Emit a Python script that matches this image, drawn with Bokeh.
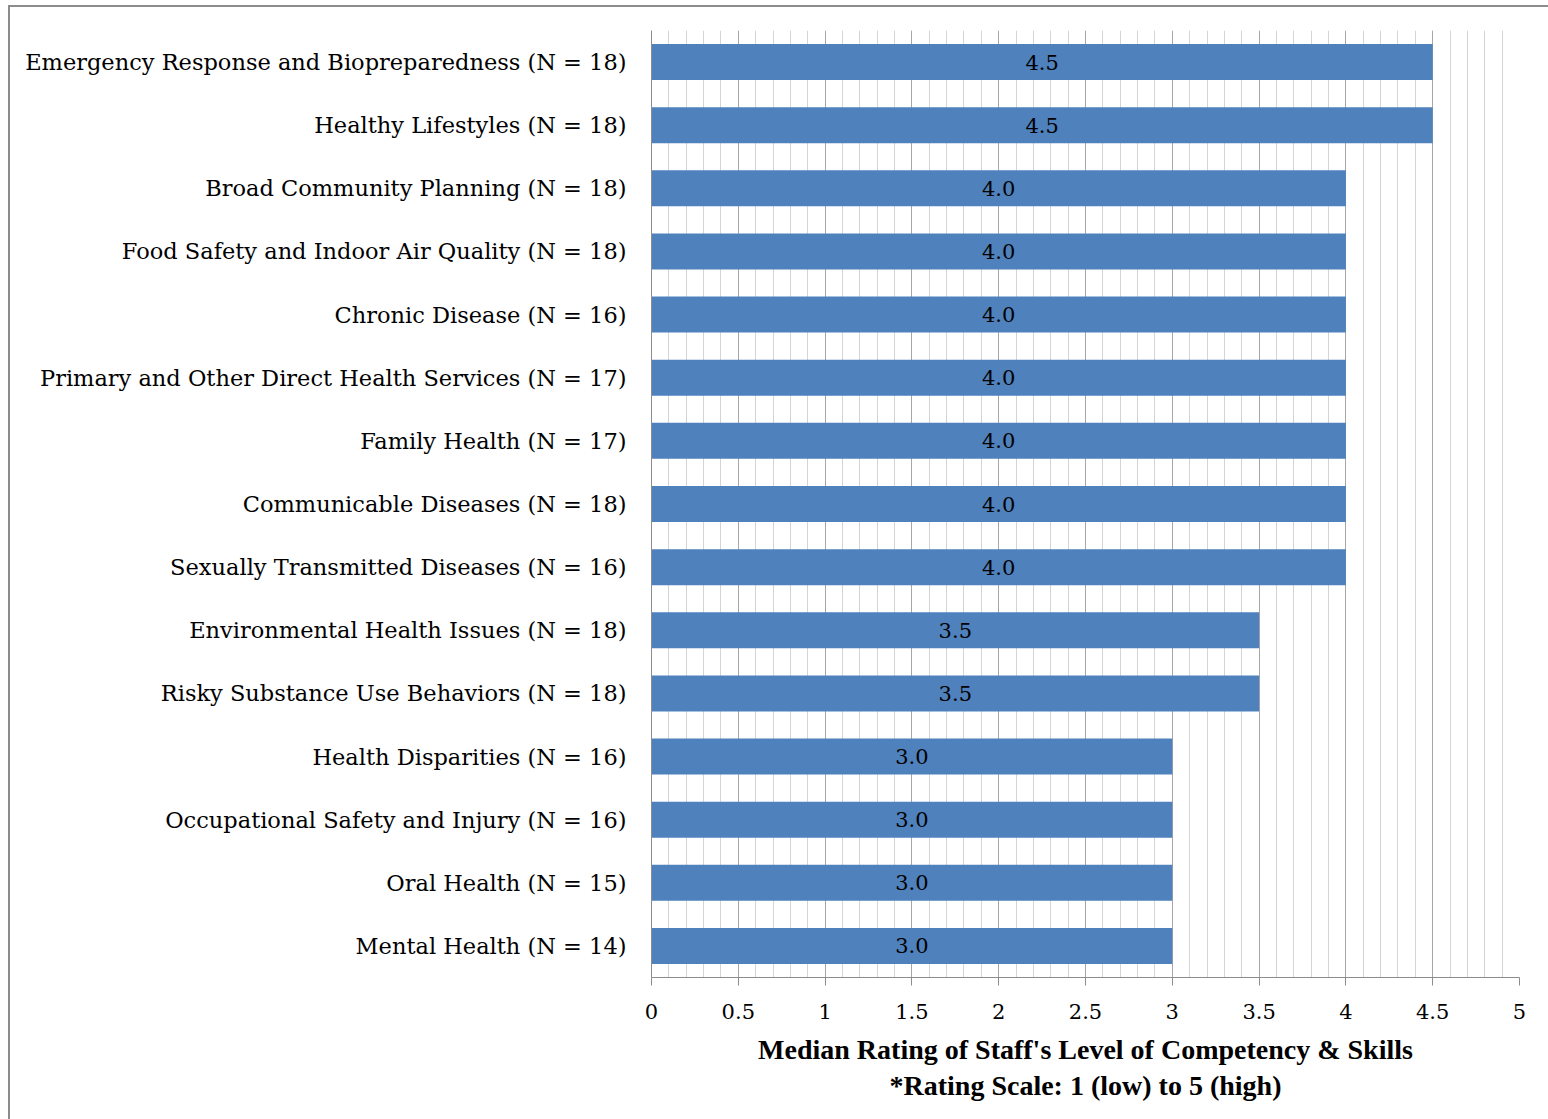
from bokeh.plotting import figure
from bokeh.models import FactorRange, Range1d, SingleIntervalTicker, NumeralTickFormatter, Title, ColumnDataSource
from bokeh.core.properties import value
from bokeh.embed import file_html
from bokeh.resources import INLINE

categories = [
    "Emergency Response and Biopreparedness (N = 18)",
    "Healthy Lifestyles (N = 18)",
    "Broad Community Planning (N = 18)",
    "Food Safety and Indoor Air Quality (N = 18)",
    "Chronic Disease (N = 16)",
    "Primary and Other Direct Health Services (N = 17)",
    "Family Health (N = 17)",
    "Communicable Diseases (N = 18)",
    "Sexually Transmitted Diseases (N = 16)",
    "Environmental Health Issues (N = 18)",
    "Risky Substance Use Behaviors (N = 18)",
    "Health Disparities (N = 16)",
    "Occupational Safety and Injury (N = 16)",
    "Oral Health (N = 15)",
    "Mental Health (N = 14)",
]
medians = [4.5, 4.5, 4.0, 4.0, 4.0, 4.0, 4.0, 4.0, 4.0, 3.5, 3.5, 3.0, 3.0, 3.0, 3.0]

x_title = "Median Rating of Staff's Level of Competency & Skills"
x_subtitle = "*Rating Scale: 1 (low) to 5 (high)"

SERIF = "DejaVu Serif"
BAR = "#4F81BD"

src = ColumnDataSource(dict(
    cat=categories,
    val=medians,
    mid=[v / 2 for v in medians],
    txt=[f"{v:.1f}" for v in medians],
))

p = figure(
    y_range=FactorRange(*reversed(categories), range_padding=0),
    x_range=Range1d(0, 5),
    frame_width=868, frame_height=947,
    min_border_left=641, min_border_top=23, min_border_right=29, min_border_bottom=142,
    output_backend="svg", toolbar_location=None,
)
p.styles = {
    "margin-left": "8px", "margin-top": "5px",
    "border-left": "2px solid #8c8c8c", "border-top": "2px solid #8c8c8c",
}
p.outline_line_color = None

p.hbar(y="cat", right="val", left=0, height=0.57, source=src,
       fill_color=BAR, line_color=None)
p.text(x="mid", y="cat", text="txt", source=src,
       text_align="center", text_baseline="middle",
       text_font=value(SERIF), text_font_size="21px", text_color="#000000")

ticker = SingleIntervalTicker(interval=0.5, num_minor_ticks=5)
p.xaxis.ticker = ticker
p.xgrid.ticker = ticker
p.xgrid.grid_line_color = "#a6a6a6"
p.xgrid.minor_grid_line_color = "#d4d4d4"
p.xgrid.level = "underlay"
p.ygrid.grid_line_color = None

p.xaxis.formatter = NumeralTickFormatter(format="0.[0]")
p.xaxis.axis_line_color = "#8c8c8c"
p.xaxis.major_tick_line_color = "#8c8c8c"
p.xaxis.major_tick_out = 8
p.xaxis.major_tick_in = 0
p.xaxis.minor_tick_line_color = None
p.xaxis.major_label_text_font = SERIF
p.xaxis.major_label_text_font_size = "21px"
p.xaxis.major_label_text_color = "#000000"
p.xaxis.major_label_standoff = 18
p.xaxis.axis_label = x_title
p.xaxis.axis_label_text_font = "Liberation Serif"
p.xaxis.axis_label_text_font_style = "bold"
p.xaxis.axis_label_text_font_size = "28px"
p.xaxis.axis_label_text_color = "#000000"
p.xaxis.axis_label_standoff = 12

p.yaxis.axis_line_color = "#8c8c8c"
p.yaxis.major_tick_line_color = None
p.yaxis.minor_tick_line_color = None
p.yaxis.major_label_text_font = SERIF
p.yaxis.major_label_text_font_size = "22.5px"
p.yaxis.major_label_text_color = "#000000"
p.yaxis.major_label_standoff = 19

p.add_layout(Title(text=x_subtitle, align="center", text_font="Liberation Serif",
                   text_font_style="bold", text_font_size="28px", text_color="#000000",
                   standoff=0), "below")

open("out.html", "w").write(file_html(p, INLINE))
